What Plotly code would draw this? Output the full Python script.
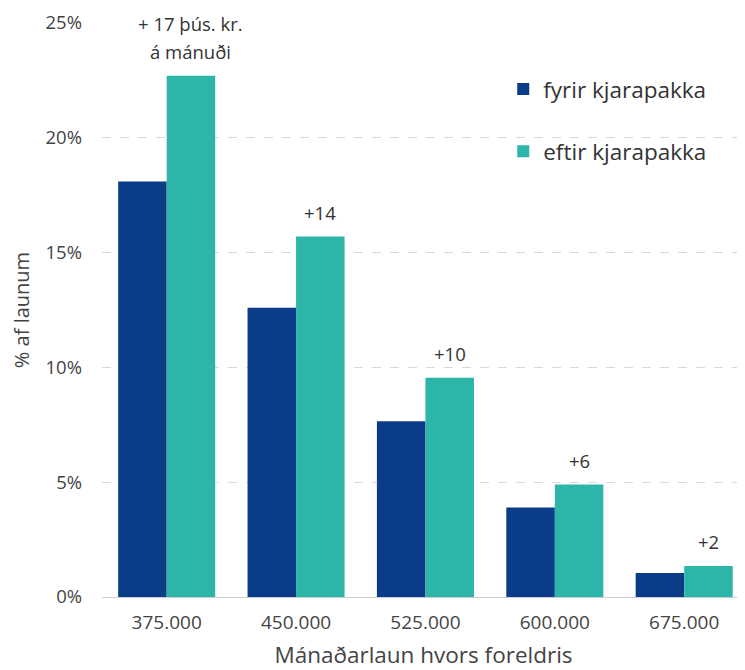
import plotly.graph_objects as go

categories = ["375.000", "450.000", "525.000", "600.000", "675.000"]
fyrir = [18.1, 12.6, 7.65, 3.9, 1.05]
eftir = [22.7, 15.7, 9.55, 4.9, 1.35]
increase_labels = ["+ 17 þús. kr.<br>á mánuði", "+14", "+10", "+6", "+2"]
y_ticks = [0, 5, 10, 15, 20, 25]
y_ticktext = ["0%", "5%", "10%", "15%", "20%", "25%"]

dark = "#0B3C87"
teal = "#2DB5A9"
font = "Open Sans, sans-serif"

fig = go.Figure()
fig.add_trace(go.Bar(x=categories, y=fyrir, name="fyrir kjarapakka",
                     marker=dict(color=dark, line=dict(width=0)), legendgroup="a"))
fig.add_trace(go.Bar(x=categories, y=eftir, name="eftir kjarapakka",
                     marker=dict(color=teal, line=dict(width=0)), legendgroup="b"))

for i, (c, v, t) in enumerate(zip(categories, eftir, increase_labels)):
    lines = t.split("<br>")
    for k, line in enumerate(reversed(lines)):
        fig.add_annotation(x=i + 0.1875, y=v, xref="x", yref="y", text=line,
                           showarrow=False, yanchor="bottom", yshift=10 + 28 * k,
                           font=dict(size=18.5, color="#333333", family=font))

fig.update_layout(
    width=737, height=662,
    margin=dict(l=94, r=0, t=15, b=73),
    paper_bgcolor="white", plot_bgcolor="white",
    barmode="group", bargap=0.25, bargroupgap=0,
    font=dict(family=font, color="#404040", size=16),
    legend=dict(x=0.624, y=0.922, xanchor="left", yanchor="top",
                font=dict(size=22.5, color="#333333"),
                traceorder="grouped", tracegroupgap=30,
                bgcolor="rgba(0,0,0,0)"),
    xaxis=dict(range=[-0.5, 4.47], showgrid=False, ticks="", automargin=False,
               tickfont=dict(size=19, color="#444444"), ticklabelstandoff=8,
               title=dict(text="Mánaðarlaun hvors foreldris", font=dict(size=22.5, color="#444444"), standoff=22),
               showline=True, linecolor="#cccccc", linewidth=1),
    yaxis=dict(range=[0, 25], tickvals=y_ticks, ticktext=y_ticktext, automargin=False,
               showgrid=True, gridcolor="#d9d9d9", griddash="dash", gridwidth=1,
               zeroline=False, ticks="", ticklabelstandoff=19,
               tickfont=dict(size=18.5, color="#444444"),
               title=dict(text="% af launum", font=dict(size=20, color="#444444"), standoff=24)),
)

fig.write_html("out.html")
